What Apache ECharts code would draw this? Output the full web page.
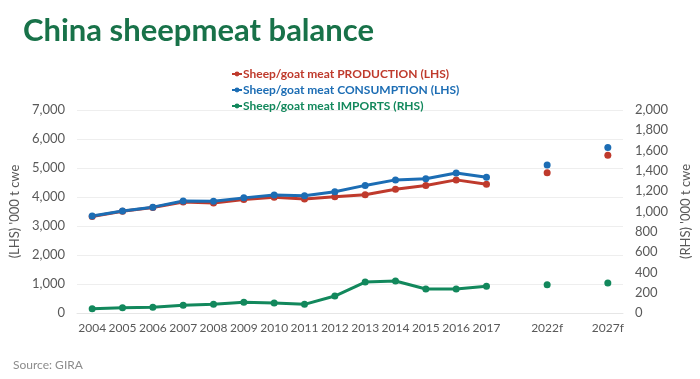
<!DOCTYPE html>
<html>
<head>
<meta charset="utf-8">
<script src="https://cdn.jsdelivr.net/npm/echarts@6/dist/echarts.min.js"></script>
<style>
html,body{margin:0;padding:0;background:#fff;}
#chart{width:700px;height:379px;}
</style>
</head>
<body>
<div id="chart"></div>
<script>
const categories = ['2004','2005','2006','2007','2008','2009','2010','2011','2012','2013','2014','2015','2016','2017','','2022f','','2027f'];
const production  = [3330,3510,3640,3830,3790,3910,3990,3930,4010,4080,4270,4400,4590,4440,null,4840,null,5440];
const consumption = [3345,3520,3650,3860,3850,3970,4070,4040,4180,4400,4590,4630,4830,4680,null,5100,null,5710];
const imports     = [43,52,56,76,86,105,98,85,167,305,315,236,236,263,null,279,null,296];
const leftTicks = [0,1000,2000,3000,4000,5000,6000,7000];
const rightTicks = [0,200,400,600,800,1000,1200,1400,1600,1800,2000];

const C_PROD = '#bf3a2c', C_CONS = '#1c6db4', C_IMP = '#12885c';
const FONT = 'Lato';
const fmt = v => v.toLocaleString('en-US');

const chart = echarts.init(document.getElementById('chart'), null, {renderer:'canvas'});
chart.setOption({
  animation:false,
  textStyle:{fontFamily:FONT},
  title:[
    {text:'China sheepmeat balance', left:18, top:10,
     textStyle:{fontFamily:FONT, fontSize:31, fontWeight:'bold', color:'#187249'}},
    {text:'Source: GIRA', left:8, top:354,
     textStyle:{fontFamily:FONT, fontSize:12, fontWeight:'normal', color:'#8c8c8c'}}
  ],
  legend:{
    orient:'vertical', left:226, top:63, itemGap:4, itemWidth:10, itemHeight:6,
    textStyle:{fontFamily:FONT, fontSize:12, fontWeight:'bold', padding:[0,0,0,-4]},
    data:[
      {name:'Sheep/goat meat PRODUCTION (LHS)', textStyle:{color:C_PROD}},
      {name:'Sheep/goat meat CONSUMPTION (LHS)', textStyle:{color:C_CONS}},
      {name:'Sheep/goat meat IMPORTS (RHS)', textStyle:{color:C_IMP}}
    ]
  },
  grid:{left:66, right:67, top:110, bottom:66},
  xAxis:{
    type:'category', data:categories, boundaryGap:true,
    axisLine:{show:true, lineStyle:{color:'#e6e6e6'}},
    axisTick:{show:false},
    axisLabel:{interval:0, color:'#595959', fontSize:12, margin:9, fontFamily:FONT}
  },
  yAxis:[
    {type:'value', min:0, max:7000, interval:1000,
     name:"(LHS) '000 t cwe", nameLocation:'middle', nameGap:46, nameRotate:90,
     nameTextStyle:{color:'#595959', fontSize:13, fontFamily:FONT},
     axisLine:{show:false}, axisTick:{show:false},
     splitLine:{lineStyle:{color:'#eeeeee'}},
     axisLabel:{color:'#595959', fontSize:13, margin:12, fontFamily:FONT,
       formatter:v => leftTicks.includes(v) ? fmt(v) : ''}},
    {type:'value', min:0, max:2000, interval:200,
     name:"(RHS) '000 t cwe", nameLocation:'middle', nameGap:53, nameRotate:90,
     nameTextStyle:{color:'#595959', fontSize:13, fontFamily:FONT},
     axisLine:{show:false}, axisTick:{show:false}, splitLine:{show:false},
     axisLabel:{color:'#595959', fontSize:13, margin:12, fontFamily:FONT,
       formatter:v => rightTicks.includes(v) ? fmt(v) : ''}}
  ],
  series:[
    {name:'Sheep/goat meat PRODUCTION (LHS)', type:'line', yAxisIndex:0, data:production,
     color:C_PROD, symbol:'circle', symbolSize:7, showAllSymbol:true, connectNulls:false,
     lineStyle:{width:3}},
    {name:'Sheep/goat meat CONSUMPTION (LHS)', type:'line', yAxisIndex:0, data:consumption,
     color:C_CONS, symbol:'circle', symbolSize:7, showAllSymbol:true, connectNulls:false,
     lineStyle:{width:3}},
    {name:'Sheep/goat meat IMPORTS (RHS)', type:'line', yAxisIndex:1, data:imports,
     color:C_IMP, symbol:'circle', symbolSize:7, showAllSymbol:true, connectNulls:false,
     lineStyle:{width:3}}
  ]
});
</script>
</body>
</html>
